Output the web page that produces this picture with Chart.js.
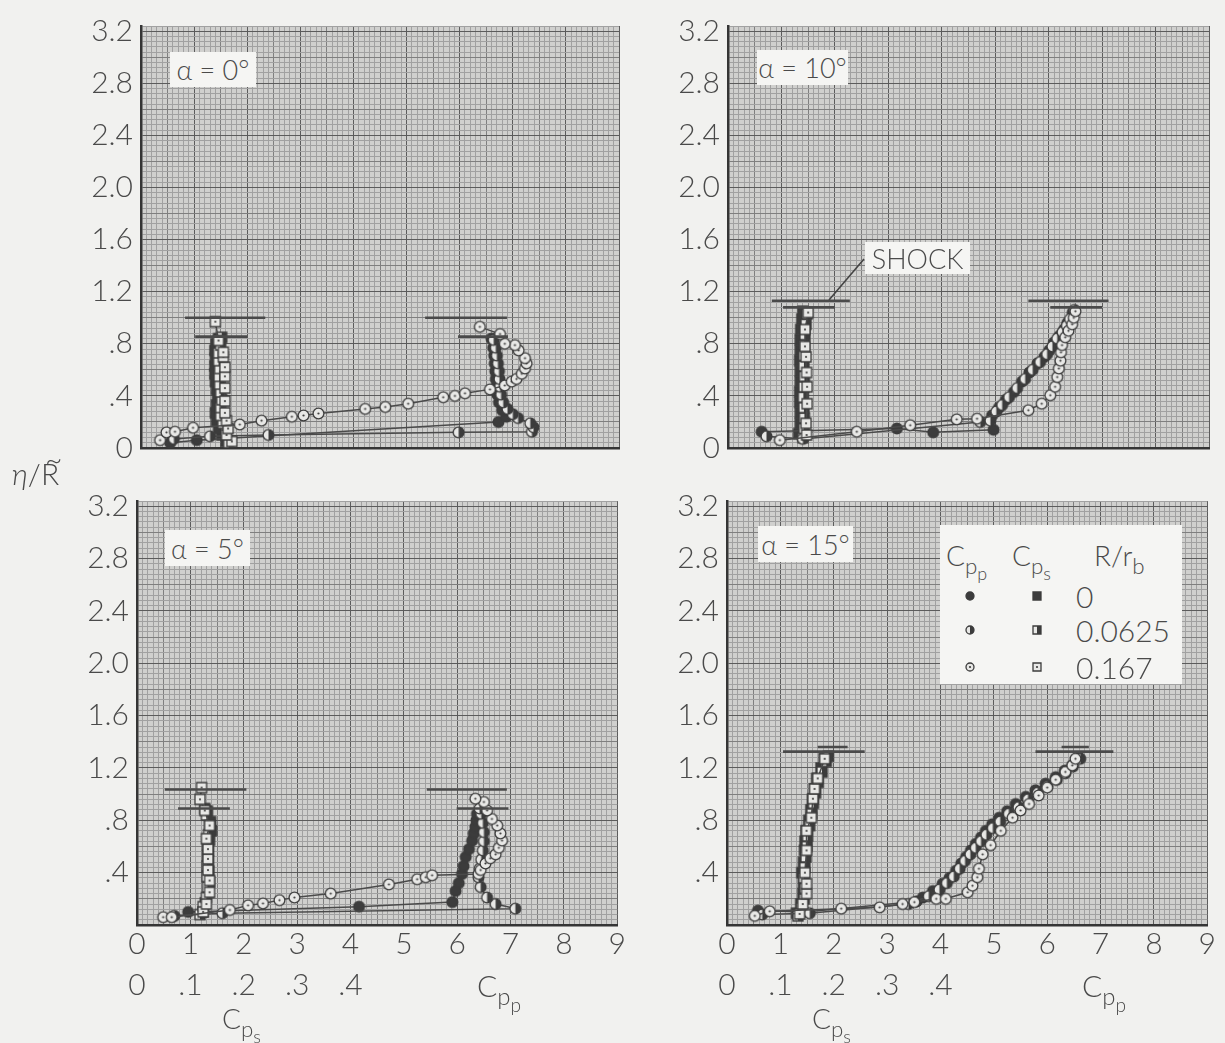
<!DOCTYPE html>
<html><head><meta charset="utf-8">
<script src="https://cdn.jsdelivr.net/npm/chart.js@4.4.1/dist/chart.umd.min.js"></script>
<style>
body{margin:0;background:#f1f1ef;width:1225px;height:1043px;overflow:hidden;position:relative;font-family:"Lato","DejaVu Sans",sans-serif;color:#4a4a4a}
.box{position:absolute;background:#f5f5f3;z-index:5;display:flex;align-items:center;justify-content:center;font-size:27px;font-weight:300;white-space:nowrap}
.txt{position:absolute;z-index:5;font-weight:300;white-space:nowrap;line-height:1}
sub{font-size:80%;vertical-align:-0.35em;line-height:0}
#legend{position:absolute;left:940px;top:525px;width:242px;height:159px;background:#f5f5f3;z-index:5}
#legend .h{position:absolute;font-size:28px;font-weight:300;line-height:1}
#legend .v{position:absolute;font-size:30px;font-weight:300;line-height:1}
#legend canvas{position:absolute}
</style></head><body>
<script>
// ---------- tick labels & categories ----------
const yTickLabels = ['0','.4','.8','1.2','1.6','2.0','2.4','2.8','3.2'];
const cppTickLabels = ['0','1','2','3','4','5','6','7','8','9'];
const cpsTickLabels = ['0','.1','.2','.3','.4'];
const panelTitles = ['α = 0°','α = 10°','α = 5°','α = 15°'];
const radiusRatios = ['0','0.0625','0.167'];

// ---------- α = 0° ----------  [Cp, η/R]
const cppA0_r0 = [[0.55,0.04],[1.05,0.06],[6.73,0.20],[6.88,0.24],[6.80,0.29],[6.74,0.35],[6.71,0.41],[6.69,0.47],[6.68,0.53],[6.67,0.59],[6.66,0.65],[6.65,0.71],[6.63,0.77],[6.60,0.84]];
const cppA0_r1 = [[0.62,0.07],[1.30,0.09],[2.40,0.10],[5.98,0.12],[7.36,0.125],[7.39,0.16],[7.33,0.19],[7.10,0.23],[7.00,0.26],[6.90,0.30],[6.82,0.35],[6.78,0.41],[6.76,0.47],[6.75,0.53],[6.74,0.59],[6.72,0.65],[6.70,0.71],[6.68,0.77],[6.64,0.83]];
const cppA0_r2 = [[0.36,0.06],[0.48,0.12],[0.64,0.125],[0.98,0.155],[1.86,0.18],[2.27,0.21],[2.84,0.24],[3.06,0.25],[3.34,0.265],[4.22,0.30],[4.60,0.315],[5.03,0.34],[5.69,0.39],[5.91,0.40],[6.10,0.42],[6.57,0.45],[6.85,0.48],[6.98,0.51],[7.07,0.53],[7.17,0.57],[7.23,0.61],[7.26,0.65],[7.23,0.69],[7.11,0.75],[7.04,0.79],[6.85,0.80],[6.76,0.875],[6.38,0.93]];
const cpsA0_r0 = [[0.160,0.05],[0.152,0.10],[0.146,0.15],[0.142,0.21],[0.140,0.27],[0.142,0.33],[0.144,0.39],[0.142,0.45],[0.140,0.51],[0.139,0.57],[0.139,0.63],[0.140,0.69],[0.139,0.75],[0.141,0.80],[0.146,0.84]];
const cpsA0_r1 = [[0.165,0.04],[0.160,0.12],[0.154,0.19],[0.150,0.25],[0.150,0.31],[0.152,0.37],[0.150,0.43],[0.148,0.49],[0.147,0.55],[0.148,0.61],[0.146,0.67],[0.146,0.73],[0.150,0.79],[0.152,0.85]];
const cpsA0_r2 = [[0.171,0.05],[0.161,0.10],[0.164,0.15],[0.161,0.21],[0.158,0.27],[0.158,0.36],[0.158,0.46],[0.158,0.55],[0.158,0.62],[0.155,0.70],[0.155,0.735],[0.146,0.825],[0.140,0.97]];
const shockCppA0 = [[5.35,6.89,1.00],[5.97,6.91,0.855]];
const shockCpsA0 = [[0.083,0.234,1.00],[0.102,0.200,0.855]];

// ---------- α = 10° ----------
const cppA10_r0 = [[0.63,0.125],[3.16,0.15],[3.84,0.12],[4.97,0.14],[4.94,0.25],[5.07,0.31],[5.20,0.37],[5.35,0.43],[5.50,0.51],[5.64,0.58],[5.79,0.65],[5.92,0.70],[6.01,0.75],[6.10,0.81],[6.20,0.86],[6.29,0.91],[6.35,0.96],[6.45,1.04]];
const cppA10_r1 = [[0.72,0.09],[1.40,0.07],[4.72,0.20],[4.91,0.21],[5.02,0.28],[5.13,0.33],[5.26,0.39],[5.41,0.46],[5.56,0.53],[5.70,0.60],[5.84,0.66],[5.97,0.72],[6.07,0.78],[6.16,0.84],[6.26,0.89],[6.34,0.94],[6.40,0.99],[6.48,1.06]];
const cppA10_r2 = [[0.97,0.06],[2.41,0.125],[3.41,0.175],[4.28,0.22],[4.66,0.225],[5.62,0.29],[5.87,0.34],[6.03,0.405],[6.12,0.47],[6.16,0.545],[6.19,0.61],[6.22,0.67],[6.23,0.735],[6.25,0.79],[6.31,0.85],[6.37,0.90],[6.44,0.95],[6.47,1.00],[6.50,1.05]];
const cpsA10_r0 = [[0.132,0.11],[0.135,0.19],[0.135,0.27],[0.134,0.35],[0.134,0.43],[0.135,0.51],[0.135,0.59],[0.134,0.67],[0.135,0.75],[0.135,0.83],[0.136,0.91],[0.138,0.99],[0.140,1.05]];
const cpsA10_r1 = [[0.140,0.08],[0.142,0.15],[0.143,0.23],[0.142,0.31],[0.141,0.39],[0.142,0.47],[0.143,0.55],[0.142,0.63],[0.142,0.71],[0.143,0.79],[0.144,0.87],[0.146,0.95],[0.148,1.03]];
const cpsA10_r2 = [[0.147,0.10],[0.146,0.19],[0.148,0.34],[0.148,0.47],[0.147,0.58],[0.146,0.70],[0.144,0.78],[0.144,0.91],[0.150,1.04]];
const shockCppA10 = [[5.62,7.12,1.13],[6.03,7.00,1.08]];
const shockCpsA10 = [[0.082,0.228,1.13],[0.103,0.200,1.08]];

// ---------- α = 5° ----------
const cppA5_r0 = [[0.96,0.10],[4.16,0.14],[5.91,0.175],[5.97,0.26],[6.03,0.32],[6.09,0.39],[6.12,0.45],[6.16,0.52],[6.22,0.58],[6.28,0.645],[6.31,0.70],[6.34,0.75],[6.36,0.80],[6.37,0.85]];
const cppA5_r1 = [[0.70,0.07],[1.60,0.09],[7.09,0.125],[6.72,0.16],[6.56,0.21],[6.44,0.29],[6.40,0.365],[6.42,0.43],[6.45,0.50],[6.48,0.57],[6.50,0.64],[6.50,0.71],[6.48,0.78],[6.45,0.85],[6.42,0.89]];
const cppA5_r2 = [[0.49,0.06],[0.65,0.06],[1.74,0.115],[2.08,0.15],[2.36,0.165],[2.67,0.19],[2.95,0.21],[3.63,0.24],[4.72,0.31],[5.25,0.35],[5.41,0.365],[5.53,0.38],[6.40,0.39],[6.44,0.42],[6.53,0.47],[6.62,0.51],[6.72,0.54],[6.78,0.59],[6.84,0.645],[6.81,0.70],[6.75,0.76],[6.65,0.81],[6.56,0.875],[6.50,0.94],[6.34,0.965]];
const cpsA5_r0 = [[0.124,0.10],[0.128,0.17],[0.134,0.25],[0.136,0.33],[0.135,0.41],[0.134,0.49],[0.134,0.57],[0.136,0.65],[0.140,0.72],[0.138,0.79],[0.132,0.87]];
const cpsA5_r1 = [[0.118,0.08],[0.124,0.14],[0.130,0.21],[0.132,0.29],[0.131,0.37],[0.131,0.45],[0.132,0.53],[0.132,0.61],[0.134,0.69],[0.136,0.77],[0.130,0.84],[0.127,0.89]];
const cpsA5_r2 = [[0.124,0.10],[0.130,0.16],[0.136,0.25],[0.136,0.34],[0.133,0.42],[0.133,0.505],[0.133,0.58],[0.130,0.66],[0.136,0.76],[0.127,0.875],[0.118,0.96],[0.121,1.05]];
const shockCppA5 = [[5.43,6.93,1.035],[5.99,6.96,0.89]];
const shockCpsA5 = [[0.052,0.205,1.035],[0.077,0.174,0.89]];

// ---------- α = 15° ----------
const cppA15_r0 = [[0.58,0.11],[1.45,0.10],[3.55,0.18],[3.67,0.21],[3.86,0.26],[4.04,0.315],[4.17,0.36],[4.29,0.415],[4.39,0.47],[4.48,0.52],[4.57,0.57],[4.66,0.62],[4.76,0.67],[4.85,0.72],[4.97,0.77],[5.10,0.82],[5.25,0.87],[5.41,0.925],[5.60,0.98],[5.78,1.03],[5.97,1.08],[6.16,1.13],[6.33,1.18],[6.47,1.22],[6.59,1.28]];
const cppA15_r1 = [[0.66,0.08],[1.55,0.09],[3.40,0.16],[3.78,0.22],[3.98,0.27],[4.12,0.32],[4.25,0.37],[4.36,0.43],[4.46,0.49],[4.56,0.54],[4.66,0.59],[4.76,0.64],[4.86,0.69],[4.98,0.74],[5.12,0.79],[5.28,0.85],[5.46,0.90],[5.64,0.96],[5.82,1.01],[6.00,1.06],[6.18,1.11],[6.34,1.16],[6.48,1.21],[6.62,1.27]];
const cppA15_r2 = [[0.52,0.07],[0.80,0.105],[2.14,0.125],[2.86,0.135],[3.29,0.16],[3.51,0.175],[3.92,0.20],[4.10,0.20],[4.51,0.25],[4.60,0.30],[4.69,0.365],[4.72,0.43],[4.79,0.54],[4.94,0.61],[5.13,0.72],[5.35,0.82],[5.50,0.875],[5.66,0.925],[5.84,0.99],[6.00,1.05],[6.16,1.11],[6.34,1.17],[6.47,1.22],[6.53,1.27]];
const cpsA15_r0 = [[0.130,0.09],[0.138,0.16],[0.142,0.24],[0.143,0.32],[0.140,0.40],[0.143,0.48],[0.145,0.57],[0.146,0.64],[0.148,0.72],[0.153,0.80],[0.157,0.88],[0.160,0.96],[0.164,1.04],[0.168,1.12],[0.176,1.20],[0.182,1.27]];
const cpsA15_r1 = [[0.133,0.07],[0.140,0.13],[0.145,0.20],[0.146,0.28],[0.144,0.36],[0.146,0.44],[0.148,0.52],[0.150,0.60],[0.151,0.68],[0.155,0.76],[0.159,0.85],[0.162,0.93],[0.166,1.01],[0.171,1.09],[0.178,1.17],[0.186,1.25],[0.190,1.29]];
const cpsA15_r2 = [[0.136,0.085],[0.142,0.16],[0.149,0.24],[0.149,0.315],[0.146,0.40],[0.149,0.57],[0.149,0.72],[0.158,0.82],[0.161,0.965],[0.164,1.04],[0.170,1.12],[0.183,1.27]];
const shockCppA15 = [[5.78,7.24,1.325],[6.27,6.78,1.36]];
const shockCpsA15 = [[0.105,0.258,1.325],[0.170,0.226,1.36]];

// ---------- styling ----------
const INK = '#3c3c3c', LINE = '#4a4a4a', TXT = '#4a4a4a';
const FONT = '"Lato","DejaVu Sans",sans-serif';
const X_MAX = 9, XS_MAX = 0.9, Y_MAX = 3.24;

function marker(shape, fill, r) {
  const s = Math.ceil(r*2+4), c = document.createElement('canvas');
  c.width = c.height = s;
  const g = c.getContext('2d'), m = s/2;
  const path = () => { g.beginPath(); if (shape==='c') g.arc(m,m,r,0,Math.PI*2); else g.rect(m-r,m-r,2*r,2*r); };
  path(); g.fillStyle = fill==='full' ? INK : '#e8e8e6'; g.fill();
  if (fill==='half') {
    g.save(); path(); g.clip(); g.fillStyle = INK; g.fillRect(m, 0, s, s); g.restore();
  }
  if (fill==='open') { g.beginPath(); g.arc(m,m,1.1,0,Math.PI*2); g.fillStyle = INK; g.fill(); }
  path(); g.lineWidth = 1.3; g.strokeStyle = INK; g.stroke();
  return c;
}
const fills = ['full','half','open'];
const circ = fills.map(f => marker('c', f, 5.4));
const sq = fills.map(f => marker('s', f, 5));

const toXY = a => a.map(p => ({x:p[0], y:p[1]}));

function gridCol(k, major, mid) {
  if (k % major === 0) return '#5c5c5c';
  if (k % mid === 0) return '#7f7f7f';
  return '#a1a1a1';
}

const bgPlugin = {
  id:'bg',
  beforeDraw(chart){
    const a = chart.chartArea, g = chart.ctx;
    g.save(); g.fillStyle = '#d0d0ce'; g.fillRect(a.left, a.top, a.right-a.left, a.bottom-a.top); g.restore();
  }
};

function buildChart(p) {
  const yW = 90, padTop = 24, padRight = 8;
  const xH = p.bottom ? 41 : 0, xsH = p.bottom ? 41 : 0, padBottom = p.bottom ? 10 : 30;
  const left = p.rect.l - yW, top = p.rect.t - padTop;
  const W = p.rect.r - left + padRight, H = p.rect.b - top + xH + xsH + padBottom;
  const cv = document.createElement('canvas');
  cv.width = W; cv.height = H;
  cv.style.cssText = `position:absolute;left:${left}px;top:${top}px;width:${W}px;height:${H}px`;
  document.body.appendChild(cv);

  const ds = [];
  p.cpp.forEach((arr,i) => ds.push({data:toXY(arr), xAxisID:'x', yAxisID:'y', showLine:true,
     borderColor:LINE, borderWidth:1.5, pointStyle:circ[i], pointRadius:5, order:3-i}));
  p.cps.forEach((arr,i) => ds.push({data:toXY(arr), xAxisID:'xs', yAxisID:'y', showLine:true,
     borderColor:LINE, borderWidth:1.5, pointStyle:sq[i], pointRadius:5, order:3-i}));
  p.shockCpp.forEach(s => ds.push({data:[{x:s[0],y:s[2]},{x:s[1],y:s[2]}], xAxisID:'x', yAxisID:'y', showLine:true,
     borderColor:'#4a4a4a', borderWidth:2.6, pointRadius:0, order:0}));
  p.shockCps.forEach(s => ds.push({data:[{x:s[0],y:s[2]},{x:s[1],y:s[2]}], xAxisID:'xs', yAxisID:'y', showLine:true,
     borderColor:'#4a4a4a', borderWidth:2.6, pointRadius:0, order:0}));

  const tickFont = {family:FONT, size:30, weight:'300'};
  new Chart(cv, {
    type:'scatter',
    data:{datasets:ds},
    plugins:[bgPlugin],
    options:{
      responsive:false, animation:false, events:[],
      layout:{padding:{left:0, top:padTop, right:padRight, bottom:padBottom}},
      plugins:{legend:{display:false}, tooltip:{enabled:false}},
      scales:{
        x:{type:'linear', position:'bottom', min:0, max:X_MAX, weight:0,
           afterFit:s=>{s.height = xH;},
           ticks:{display:p.bottom, stepSize:0.1, autoSkip:false, maxRotation:0, minRotation:0, padding:1, color:TXT, font:tickFont,
                  callback:v=>{const k=Math.round(v*10); return (k%10===0 && cppTickLabels[k/10]!==undefined) ? cppTickLabels[k/10] : '';}},
           grid:{drawTicks:false, color:c=>gridCol(Math.round(c.tick.value*10),10,5), lineWidth:1},
           border:{display:true, color:'#353535', width:2.5}},
        xs:{type:'linear', position:'bottom', min:0, max:XS_MAX, weight:1, display:p.bottom,
           afterFit:s=>{s.height = xsH;},
           ticks:{stepSize:0.1, autoSkip:false, maxRotation:0, minRotation:0, padding:1, color:TXT, font:tickFont,
                  callback:v=>{const k=Math.round(v*10); return k<cpsTickLabels.length ? cpsTickLabels[k] : '';}},
           grid:{display:false, drawTicks:false}, border:{display:false}},
        y:{type:'linear', position:'left', min:0, max:Y_MAX,
           afterFit:s=>{s.width = yW;},
           ticks:{stepSize:0.04, autoSkip:false, padding:8, color:TXT, font:tickFont,
                  callback:v=>{const k=Math.round(v/0.04); if (k%10!==0) return ''; const i=k/10;
                               if (i>8) return ''; if (i===0 && p.bottom) return ''; return yTickLabels[i];}},
           grid:{drawTicks:false, color:c=>gridCol(Math.round(c.tick.value/0.04),10,5), lineWidth:1},
           border:{display:true, color:'#353535', width:2.5}}
      }
    }
  });
}

const panels = [
  {rect:{l:141,t:24,r:619,b:448}, bottom:false, cpp:[cppA0_r0,cppA0_r1,cppA0_r2], cps:[cpsA0_r0,cpsA0_r1,cpsA0_r2], shockCpp:shockCppA0, shockCps:shockCpsA0},
  {rect:{l:728,t:24,r:1209,b:448}, bottom:false, cpp:[cppA10_r0,cppA10_r1,cppA10_r2], cps:[cpsA10_r0,cpsA10_r1,cpsA10_r2], shockCpp:shockCppA10, shockCps:shockCpsA10},
  {rect:{l:137,t:499,r:619,b:925}, bottom:true, cpp:[cppA5_r0,cppA5_r1,cppA5_r2], cps:[cpsA5_r0,cpsA5_r1,cpsA5_r2], shockCpp:shockCppA5, shockCps:shockCpsA5},
  {rect:{l:727,t:499,r:1209,b:925}, bottom:true, cpp:[cppA15_r0,cppA15_r1,cppA15_r2], cps:[cpsA15_r0,cpsA15_r1,cpsA15_r2], shockCpp:shockCppA15, shockCps:shockCpsA15}
];
panels.forEach(buildChart);

// ---------- text overlays ----------
function addBox(txt, l, t, w, h, cls) {
  const d = document.createElement('div'); d.className = cls || 'box';
  d.style.left = l+'px'; d.style.top = t+'px'; d.style.width = w+'px'; d.style.height = h+'px';
  d.textContent = txt; document.body.appendChild(d); return d;
}
addBox(panelTitles[0], 170, 52, 86, 35);
addBox(panelTitles[1], 757, 50, 91, 35);
addBox(panelTitles[2], 165, 530, 85, 36);
addBox(panelTitles[3], 758, 526, 95, 36);
addBox('SHOCK', 865, 242, 105, 32);

function addHTML(html, l, t, size, extra) {
  const d = document.createElement('div'); d.className = 'txt';
  d.style.left = l+'px'; d.style.top = t+'px'; d.style.fontSize = size+'px';
  if (extra) d.style.cssText += extra;
  d.innerHTML = html; document.body.appendChild(d); return d;
}
addHTML('<span style="font-style:italic">η</span>/<span style="position:relative;display:inline-block">R<span style="position:absolute;left:4px;top:-15px">~</span></span>', 12, 458, 30);
addHTML('C<sub>p<sub>p</sub></sub>', 477, 970, 30);
addHTML('C<sub>p<sub>s</sub></sub>', 222, 1004, 28);
addHTML('C<sub>p<sub>p</sub></sub>', 1082, 970, 30);
addHTML('C<sub>p<sub>s</sub></sub>', 812, 1004, 28);

// shock leader line
const svgNS = 'http://www.w3.org/2000/svg';
const svg = document.createElementNS(svgNS, 'svg');
svg.setAttribute('width','1225'); svg.setAttribute('height','1043');
svg.style.cssText = 'position:absolute;left:0;top:0;z-index:6;pointer-events:none';
const ln = document.createElementNS(svgNS, 'line');
ln.setAttribute('x1','864'); ln.setAttribute('y1','259'); ln.setAttribute('x2','829'); ln.setAttribute('y2','300');
ln.setAttribute('stroke','#444'); ln.setAttribute('stroke-width','1.6');
svg.appendChild(ln); document.body.appendChild(svg);

// legend
const lg = document.createElement('div'); lg.id = 'legend'; document.body.appendChild(lg);
function lgText(html, l, t, cls) { const d=document.createElement('div'); d.className=cls; d.style.left=l+'px'; d.style.top=t+'px'; d.innerHTML=html; lg.appendChild(d); }
lgText('C<sub>p<sub>p</sub></sub>', 6, 16, 'h');
lgText('C<sub>p<sub>s</sub></sub>', 72, 16, 'h');
lgText('R/r<sub>b</sub>', 154, 16, 'h');
const rowY = [71, 105, 142];
radiusRatios.forEach((r,i) => {
  const c1 = marker('c', fills[i], 4); c1.style.left = (30 - c1.width/2)+'px'; c1.style.top = (rowY[i]-c1.height/2)+'px'; lg.appendChild(c1);
  const c2 = marker('s', fills[i], 4); c2.style.left = (97 - c2.width/2)+'px'; c2.style.top = (rowY[i]-c2.height/2)+'px'; lg.appendChild(c2);
  lgText(r, 136, rowY[i]-15, 'v');
});
</script>
</body></html>
